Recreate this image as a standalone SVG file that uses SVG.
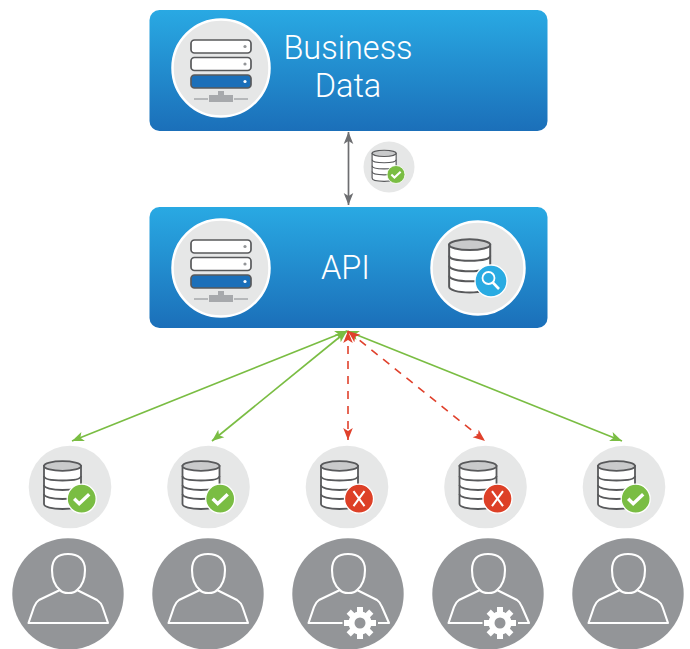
<svg xmlns="http://www.w3.org/2000/svg" xmlns:xlink="http://www.w3.org/1999/xlink" width="690" height="649" viewBox="0 0 690 649">
<style>
.panel{fill:url(#blue)}
.halo{fill:#e6e7e7;stroke:#fff;stroke-width:2.500}
.soft{fill:#e6e7e7}
.person{fill:#939598}
.line{fill:none;stroke:#fff;stroke-width:2.100;stroke-linejoin:round}
.title{font-family:Roboto,"Liberation Sans",sans-serif;font-weight:300;font-size:32.500px;fill:#fff;text-anchor:middle}
.green{stroke:#7abd43;stroke-width:1.700;fill:none;marker-start:url(#ag);marker-end:url(#ag)}
.red{stroke:#e0412c;stroke-width:1.600;fill:none;stroke-dasharray:8 7;marker-start:url(#ar);marker-end:url(#ar)}
.gray{stroke:#6d6e71;stroke-width:1.700;fill:none;marker-start:url(#ak);marker-end:url(#ak)}
</style>
<defs>
<linearGradient id="blue" x1="0" y1="0" x2="0" y2="1"><stop offset="0" stop-color="#29a9e3"/><stop offset="1" stop-color="#1b6fb9"/></linearGradient>
<marker id="ag" markerUnits="userSpaceOnUse" markerWidth="14" markerHeight="12" refX="12" refY="6" orient="auto-start-reverse"><path d="M0 1.200L12 6L0 10.800L3 6Z" fill="#7abd43"/></marker>
<marker id="ar" markerUnits="userSpaceOnUse" markerWidth="14" markerHeight="12" refX="12" refY="6" orient="auto-start-reverse"><path d="M0 1.200L12 6L0 10.800L3 6Z" fill="#e0412c"/></marker>
<marker id="ak" markerUnits="userSpaceOnUse" markerWidth="14" markerHeight="12" refX="12" refY="6" orient="auto-start-reverse"><path d="M0 1.200L12 6L0 10.800L3 6Z" fill="#6d6e71"/></marker>
<g id="server">
<rect x="-30" y="-28" width="60" height="13" rx="3.500" fill="#fff" stroke="#58595b" stroke-width="1.700"/>
<rect x="-30" y="-10.500" width="60" height="13" rx="3.500" fill="#fff" stroke="#58595b" stroke-width="1.700"/>
<rect x="-30" y="7" width="60" height="13" rx="3.500" fill="#1b6fb9" stroke="#58595b" stroke-width="1.700"/>
<circle cx="24" cy="-21.500" r="1.600" fill="#939598"/><circle cx="24" cy="-4" r="1.600" fill="#939598"/><circle cx="24" cy="13.500" r="1.600" fill="#fff"/>
<path d="M-27 31H-13M13 31H27" stroke="#a7a9ac" stroke-width="1.700" fill="none"/>
<path d="M-12 27H-3V23H3V27H12V34H-12Z" fill="#a7a9ac"/>
</g>
<g id="db" fill="none" stroke="#58595b" stroke-width="1.800">
<path d="M-26 -21V17C-26 20 -18 22 -7.500 22S11 20 11 17V-21Z" fill="#fff"/>
<ellipse cx="-7.500" cy="-21" rx="18.500" ry="4.800" fill="#c9cacb"/>
<path d="M-26 -11C-26 -8 -18 -6.500 -7.500 -6.500S11 -8 11 -11M-26 -2C-26 1 -18 3 -7.500 3S11 1 11 -2M-26 7C-26 10 -18 12 -7.500 12S11 10 11 7"/>
</g>
<g id="check"><circle r="14.500" fill="#7abd43" stroke="#fff" stroke-width="1.300"/><path d="M-7.500 0L-2.500 5L7.500 -4.500" fill="none" stroke="#fff" stroke-width="3.400"/></g>
<g id="bad"><circle r="14.500" fill="#dd4027" stroke="#fff" stroke-width="1.300"/><path d="M-5.500 -7.500L5.500 7.500M5.500 -7.500L-5.500 7.500" fill="none" stroke="#fff" stroke-width="2"/></g>
<g id="human">
<circle r="55.700" class="person"/>
<path class="line" d="M-8 -4C-13 -8 -16 -15 -16 -24C-16 -35 -10 -40 0 -40S17 -35 17 -24C17 -15 14 -8 9 -4C6 0 -5 0 -8 -4Z"/>
<path class="line" d="M-8 -4L-29 6C-32 8 -33 10 -34 13L-39.500 29H40L34.500 13C33.500 10 32 8 29 6L9 -4"/>
</g>
<g id="admin">
<circle r="55.700" class="person"/>
<path class="line" d="M-8 -4C-13 -8 -16 -15 -16 -24C-16 -35 -10 -40 0 -40S17 -35 17 -24C17 -15 14 -8 9 -4C6 0 -5 0 -8 -4Z"/>
<path class="line" d="M-5.500 29H-39.500L-34 13C-33 10 -32 8 -29 6L-8 -4M9 -4L29 6C32 8 33 10 34 13L41 29H30"/>
<g transform="translate(12 29)"><circle r="11.500" fill="#fff"/><path d="M0 -16V16M-16 0H16M-11.300 -11.300L11.300 11.300M11.300 -11.300L-11.300 11.300" stroke="#fff" stroke-width="6"/><circle r="5.500" fill="#939598"/></g>
</g>
</defs>
<g id="connectors">
<path class="gray" d="M348.500 132V205"/>
<path class="green" d="M347 331L72 441"/>
<path class="green" d="M347 331L212 441"/>
<path class="green" d="M347 331L622 441"/>
<path class="red" d="M348 331V440"/>
<path class="red" d="M348 331L485 441"/>
</g>
<g id="business-data">
<rect class="panel" x="149.500" y="10" width="398" height="121" rx="10"/>
<circle class="halo" cx="221" cy="68" r="48.500"/>
<use href="#server" x="221" y="68"/>
<text class="title" x="348" y="59">Business</text>
<text class="title" x="348" y="97">Data</text>
</g>
<g id="sync-check">
<circle class="soft" cx="389" cy="167" r="25.500"/>
<g transform="translate(389 167) scale(.65)"><use href="#db"/></g>
<g transform="translate(396 174.500) scale(.62)"><use href="#check"/></g>
</g>
<g id="api">
<rect class="panel" x="149.500" y="207" width="398" height="121" rx="10"/>
<circle class="halo" cx="221" cy="268" r="48.500"/>
<use href="#server" x="221" y="268"/>
<text class="title" x="345.500" y="279">API</text>
<circle class="halo" cx="478" cy="268" r="46.500"/>
<g transform="translate(478 268) scale(1.110)"><use href="#db"/></g>
<circle cx="491" cy="281" r="16" fill="#29abe2" stroke="#fff" stroke-width="1.300"/>
<circle cx="488.500" cy="278" r="6" fill="none" stroke="#fff" stroke-width="1.800"/>
<path d="M492.800 282.500L499 289" stroke="#fff" stroke-width="2.600"/>
</g>
<g id="db-1"><circle class="soft" cx="70" cy="487" r="41.300"/><use href="#db" x="70" y="487"/><use href="#check" x="81.700" y="498.700"/></g>
<g id="db-2"><circle class="soft" cx="208.500" cy="487" r="41.300"/><use href="#db" x="208.500" y="487"/><use href="#check" x="220.200" y="498.700"/></g>
<g id="db-3"><circle class="soft" cx="347" cy="487" r="41.300"/><use href="#db" x="347" y="487"/><use href="#bad" x="359" y="498.700"/></g>
<g id="db-4"><circle class="soft" cx="485.500" cy="487" r="41.300"/><use href="#db" x="485.500" y="487"/><use href="#bad" x="497.500" y="498.700"/></g>
<g id="db-5"><circle class="soft" cx="624" cy="487" r="41.300"/><use href="#db" x="624" y="487"/><use href="#check" x="635.700" y="498.700"/></g>
<g id="user-1"><use href="#human" x="68" y="594"/></g>
<g id="user-2"><use href="#human" x="208" y="594"/></g>
<g id="user-3"><use href="#admin" x="348" y="594"/></g>
<g id="user-4"><use href="#admin" x="488" y="594"/></g>
<g id="user-5"><use href="#human" x="628" y="594"/></g>
</svg>
